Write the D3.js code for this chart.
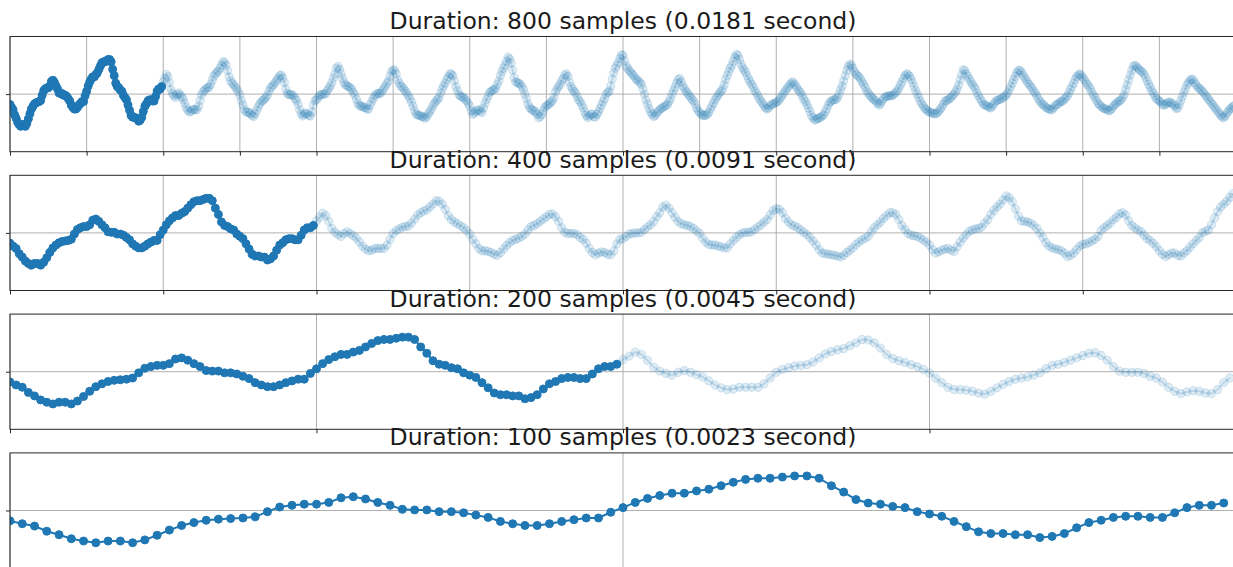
<!DOCTYPE html>
<html>
<head>
<meta charset="utf-8">
<script src="https://cdn.jsdelivr.net/npm/d3@7"></script>
<style>
  body { margin: 0; background: white; }
  svg { display: block; }
  .title { font-family: "DejaVu Sans", sans-serif; font-size: 23.5px; fill: #1a1a1a; }
</style>
</head>
<body>
<div id="container"></div>
<script>
/* CONSTANTS AND GLOBALS */
const width = 1233
const height = 567
const margin = { left: 10, top: 36.5 }
const panelW = 1226   // sample N sits just past the right edge of the window
const panelH = 115.2
const panelStep = 138.8

// panel settings
const durations = [800, 400, 200, 100]
const seconds = ["0.0181", "0.0091", "0.0045", "0.0023"]
const highlight = 100   // first 100 samples drawn solid
const tickStep = 50
const yTicks = [0]

// waveform (units: fraction of the half axis height)
const samples000 = [-0.18,-0.23,-0.27,-0.36,-0.42,-0.49,-0.53,-0.56,-0.53,-0.53,
  -0.56,-0.51,-0.43,-0.34,-0.26,-0.21,-0.17,-0.15,-0.14,-0.13,
  -0.11,-0.02,0.06,0.09,0.11,0.11,0.14,0.22,0.24,0.20,
  0.14,0.09,0.02,0.01,0.01,-0.02,-0.02,-0.04,-0.08,-0.12,
  -0.19,-0.23,-0.26,-0.26,-0.23,-0.19,-0.16,-0.13,-0.13,-0.03,
  0.05,0.14,0.21,0.26,0.30,0.30,0.34,0.37,0.43,0.49,
  0.54,0.56,0.56,0.58,0.60,0.60,0.56,0.43,0.32,0.19,
  0.13,0.11,0.07,0.05,-0.02,-0.06,-0.10,-0.19,-0.28,-0.37,
  -0.40,-0.40,-0.42,-0.42,-0.47,-0.45,-0.40,-0.30,-0.21,-0.17,
  -0.12,-0.10,-0.10,-0.12,-0.12,-0.04,0.05,0.09,0.09,0.13]
const samples100 = [0.21,0.27,0.34,0.30,0.20,0.08,0.01,-0.03,-0.06,-0.01,
  0.02,-0.01,-0.05,-0.09,-0.16,-0.23,-0.28,-0.31,-0.30,-0.27,
  -0.27,-0.27,-0.27,-0.21,-0.11,-0.01,0.04,0.07,0.10,0.11,
  0.12,0.17,0.24,0.31,0.35,0.38,0.40,0.45,0.50,0.56,
  0.55,0.50,0.41,0.30,0.23,0.19,0.16,0.12,0.09,0.04,
  -0.02,-0.11,-0.19,-0.27,-0.31,-0.31,-0.32,-0.34,-0.37,-0.39,
  -0.34,-0.28,-0.22,-0.17,-0.13,-0.11,-0.09,-0.06,-0.02,0.05,
  0.11,0.13,0.16,0.20,0.24,0.28,0.32,0.33,0.28,0.20,
  0.09,0.01,-0.01,-0.01,-0.01,-0.03,-0.08,-0.11,-0.18,-0.27,
  -0.34,-0.38,-0.35,-0.33,-0.34,-0.37,-0.38,-0.31,-0.19,-0.11]
const samples200 = [-0.10,-0.06,-0.02,-0.01,0.00,0.00,0.01,0.06,0.10,0.14,
  0.20,0.28,0.35,0.45,0.48,0.43,0.35,0.27,0.20,0.16,
  0.14,0.13,0.11,0.08,0.03,-0.01,-0.09,-0.16,-0.20,-0.21,
  -0.21,-0.23,-0.24,-0.26,-0.26,-0.19,-0.13,-0.08,-0.03,0.00,
  0.01,0.01,0.02,0.06,0.10,0.14,0.19,0.23,0.31,0.39,
  0.42,0.41,0.35,0.25,0.19,0.14,0.12,0.09,0.05,0.01,
  -0.03,-0.08,-0.14,-0.21,-0.29,-0.35,-0.36,-0.37,-0.38,-0.39,
  -0.40,-0.42,-0.39,-0.34,-0.30,-0.26,-0.20,-0.16,-0.12,-0.09,
  -0.06,0.02,0.09,0.14,0.19,0.25,0.30,0.35,0.35,0.32,
  0.23,0.13,0.06,-0.01,-0.04,-0.05,-0.06,-0.09,-0.12,-0.16]
const samples300 = [-0.21,-0.29,-0.35,-0.33,-0.30,-0.28,-0.27,-0.30,-0.32,-0.24,
  -0.16,-0.09,-0.03,0.03,0.05,0.07,0.08,0.10,0.17,0.23,
  0.32,0.39,0.45,0.50,0.57,0.64,0.61,0.54,0.42,0.29,
  0.21,0.20,0.19,0.17,0.13,0.08,0.00,-0.08,-0.17,-0.23,
  -0.26,-0.28,-0.29,-0.31,-0.35,-0.41,-0.39,-0.35,-0.29,-0.23,
  -0.20,-0.19,-0.17,-0.14,-0.11,-0.06,0.04,0.09,0.13,0.17,
  0.23,0.27,0.33,0.35,0.31,0.21,0.13,0.09,0.05,0.02,
  -0.04,-0.10,-0.13,-0.18,-0.24,-0.31,-0.37,-0.41,-0.38,-0.35,
  -0.35,-0.39,-0.40,-0.35,-0.31,-0.25,-0.19,-0.13,-0.08,0.00,
  0.03,0.05,0.14,0.26,0.37,0.45,0.50,0.55,0.62,0.68]
const samples400 = [0.67,0.58,0.49,0.45,0.41,0.38,0.35,0.32,0.28,0.25,
  0.23,0.20,0.17,0.09,0.00,-0.10,-0.17,-0.25,-0.31,-0.35,
  -0.39,-0.37,-0.33,-0.30,-0.27,-0.25,-0.23,-0.21,-0.20,-0.18,
  -0.13,-0.08,0.00,0.06,0.12,0.19,0.25,0.27,0.21,0.14,
  0.10,0.05,0.02,-0.02,-0.05,-0.09,-0.12,-0.17,-0.24,-0.29,
  -0.32,-0.35,-0.37,-0.37,-0.37,-0.35,-0.32,-0.26,-0.21,-0.16,
  -0.10,-0.06,-0.02,0.02,0.05,0.09,0.16,0.25,0.32,0.39,
  0.45,0.50,0.57,0.64,0.69,0.67,0.60,0.52,0.46,0.42,
  0.38,0.32,0.26,0.21,0.17,0.12,0.06,0.02,-0.03,-0.08,
  -0.12,-0.16,-0.20,-0.24,-0.26,-0.24,-0.20,-0.18,-0.17,-0.16]
const samples500 = [-0.14,-0.13,-0.10,-0.06,-0.02,0.02,0.06,0.10,0.13,0.17,
  0.20,0.21,0.17,0.13,0.09,0.05,0.02,-0.03,-0.09,-0.13,
  -0.18,-0.24,-0.30,-0.37,-0.41,-0.45,-0.44,-0.42,-0.42,-0.40,
  -0.38,-0.36,-0.31,-0.25,-0.19,-0.14,-0.12,-0.10,-0.10,-0.09,
  -0.06,0.00,0.08,0.14,0.23,0.32,0.41,0.48,0.52,0.50,
  0.45,0.39,0.35,0.32,0.30,0.26,0.21,0.17,0.12,0.06,
  0.02,-0.02,-0.05,-0.08,-0.10,-0.12,-0.16,-0.19,-0.17,-0.12,
  -0.08,-0.05,-0.04,-0.03,-0.03,-0.03,-0.02,0.00,0.03,0.06,
  0.10,0.16,0.21,0.27,0.32,0.35,0.34,0.31,0.26,0.20,
  0.13,0.06,0.00,-0.06,-0.12,-0.17,-0.21,-0.25,-0.27,-0.30]
const samples600 = [-0.31,-0.32,-0.33,-0.34,-0.34,-0.33,-0.30,-0.26,-0.23,-0.18,
  -0.13,-0.11,-0.10,-0.08,-0.06,-0.03,0.00,0.04,0.09,0.16,
  0.25,0.33,0.42,0.41,0.35,0.31,0.26,0.21,0.17,0.13,
  0.09,0.02,-0.03,-0.08,-0.12,-0.17,-0.19,-0.20,-0.21,-0.23,
  -0.24,-0.21,-0.17,-0.13,-0.11,-0.10,-0.09,-0.08,-0.06,-0.04,
  -0.02,0.02,0.08,0.13,0.19,0.25,0.31,0.37,0.41,0.41,
  0.38,0.33,0.29,0.25,0.20,0.17,0.13,0.10,0.05,0.02,
  -0.03,-0.08,-0.12,-0.16,-0.18,-0.20,-0.23,-0.25,-0.26,-0.27,
  -0.27,-0.24,-0.20,-0.18,-0.17,-0.14,-0.13,-0.12,-0.09,-0.06,
  -0.03,0.02,0.08,0.13,0.19,0.25,0.30,0.33,0.35,0.33]
const samples700 = [0.29,0.25,0.21,0.17,0.13,0.09,0.03,-0.02,-0.06,-0.11,
  -0.16,-0.19,-0.21,-0.24,-0.25,-0.26,-0.27,-0.29,-0.28,-0.25,
  -0.21,-0.18,-0.16,-0.13,-0.12,-0.10,-0.06,-0.01,0.08,0.16,
  0.25,0.33,0.41,0.48,0.50,0.48,0.45,0.42,0.40,0.38,
  0.34,0.29,0.23,0.17,0.12,0.06,0.02,-0.03,-0.08,-0.10,
  -0.12,-0.14,-0.18,-0.19,-0.18,-0.16,-0.14,-0.14,-0.16,-0.18,
  -0.21,-0.25,-0.24,-0.18,-0.11,-0.04,0.03,0.09,0.16,0.20,
  0.24,0.26,0.25,0.20,0.16,0.12,0.10,0.08,0.05,0.02,
  -0.02,-0.05,-0.09,-0.12,-0.16,-0.19,-0.23,-0.26,-0.30,-0.33,
  -0.37,-0.40,-0.41,-0.38,-0.33,-0.30,-0.26,-0.24,-0.21,-0.20]

const signal = [].concat(samples000, samples100, samples200, samples300,
  samples400, samples500, samples600, samples700)
console.log('signal length :>> ', signal.length);

const blue = "#1f77b4"

/* CREATE SVG ELEMENT */
const svg = d3.select("#container")
  .append("svg")
  .attr("width", width)
  .attr("height", height)

durations.forEach((n, i) => {
  const top = margin.top + i * panelStep

  // SCALES
  const xScale = d3.scaleLinear()
    .domain([0, n])
    .range([margin.left, margin.left + panelW])

  const yScale = d3.scaleLinear()
    .domain([-1, 1])
    .range([top + panelH, top])

  const xTicks = d3.range(0, n + 1, tickStep)

  const panel = svg.append("g").attr("class", "panel")

  panel.append("clipPath")
    .attr("id", "clip" + i)
    .append("rect")
    .attr("x", margin.left)
    .attr("y", top)
    .attr("width", panelW)
    .attr("height", panelH)

  // GRID
  panel.append("g")
    .selectAll("line")
    .data(xTicks)
    .join("line")
      .attr("x1", d => xScale(d))
      .attr("x2", d => xScale(d))
      .attr("y1", top)
      .attr("y2", top + panelH)
      .attr("stroke", "#b0b0b0")
      .attr("stroke-width", 1)

  panel.append("g")
    .selectAll("line")
    .data(yTicks)
    .join("line")
      .attr("x1", margin.left)
      .attr("x2", margin.left + panelW)
      .attr("y1", d => yScale(d))
      .attr("y2", d => yScale(d))
      .attr("stroke", "#b0b0b0")
      .attr("stroke-width", 1)

  // DATA
  const pts = signal.slice(0, n).map((v, k) => ({ k: k, v: v }))
  const line = d3.line()
    .x(d => xScale(d.k))
    .y(d => yScale(d.v))

  const plot = panel.append("g").attr("clip-path", `url(#clip${i})`)

  // faded part (everything after the first 100 samples)
  const faded = pts.slice(highlight - 1)
  if (faded.length > 1) {
    plot.append("path")
      .attr("d", line(faded))
      .attr("fill", "none")
      .attr("stroke", blue)
      .attr("stroke-opacity", 0.18)
      .attr("stroke-width", 2)

    plot.append("g")
      .selectAll("circle")
      .data(faded.slice(1))
      .join("circle")
        .attr("cx", d => xScale(d.k))
        .attr("cy", d => yScale(d.v))
        .attr("r", 4.2)
        .attr("fill", blue)
        .attr("fill-opacity", 0.14)
        .attr("stroke", blue)
        .attr("stroke-opacity", 0.16)
        .attr("stroke-width", 1)
  }

  // solid part
  const solid = pts.slice(0, highlight)
  plot.append("path")
    .attr("d", line(solid))
    .attr("fill", "none")
    .attr("stroke", blue)
    .attr("stroke-width", 2)

  plot.append("g")
    .selectAll("circle")
    .data(solid)
    .join("circle")
      .attr("cx", d => xScale(d.k))
      .attr("cy", d => yScale(d.v))
      .attr("r", 4)
      .attr("fill", blue)
      .attr("stroke", blue)
      .attr("stroke-width", 1)

  // AXES (no labels, ticks only)
  const xAxis = d3.axisBottom(xScale)
    .tickValues(xTicks)
    .tickFormat("")
    .tickSizeInner(4)
    .tickSizeOuter(0)

  const yAxis = d3.axisLeft(yScale)
    .tickValues(yTicks)
    .tickFormat("")
    .tickSizeInner(4)
    .tickSizeOuter(0)

  const xAxisGroup = panel.append("g")
    .attr("transform", `translate(0, ${top + panelH})`)
    .call(xAxis)
  xAxisGroup.select(".domain").remove()
  xAxisGroup.selectAll("line").attr("stroke", "#262626")

  const yAxisGroup = panel.append("g")
    .attr("transform", `translate(${margin.left}, 0)`)
    .call(yAxis)
  yAxisGroup.select(".domain").remove()
  yAxisGroup.selectAll("line").attr("stroke", "#262626")

  // SPINES
  panel.append("rect")
    .attr("x", margin.left)
    .attr("y", top)
    .attr("width", panelW)
    .attr("height", panelH)
    .attr("fill", "none")
    .attr("stroke", "#262626")
    .attr("stroke-width", 1)

  // TITLE
  panel.append("text")
    .attr("class", "title")
    .attr("x", margin.left + panelW / 2)
    .attr("y", top - 7.5)
    .attr("text-anchor", "middle")
    .text(`Duration: ${n} samples (${seconds[i]} second)`)
})
</script>
</body>
</html>
